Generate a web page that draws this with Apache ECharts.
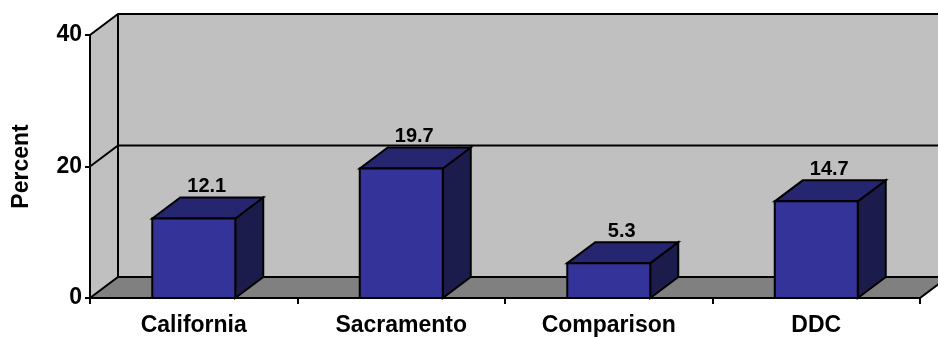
<!DOCTYPE html>
<html>
<head>
<meta charset="utf-8">
<script src="https://cdn.jsdelivr.net/npm/echarts@6/dist/echarts.min.js"></script>
<style>
  html, body { margin: 0; padding: 0; background: #ffffff; }
  #chart { width: 938px; height: 337px; }
</style>
</head>
<body>
<div id="chart"></div>
<script>
// Chart data
const categories = ['California', 'Sacramento', 'Comparison', 'DDC'];
const percentValues = [12.1, 19.7, 5.3, 14.7];
const yTicks = [0, 20, 40];

// Pseudo-3D depth offset of the back plane (pixels)
const DX = 28;
const DY = -21;
const FONT = 'Liberation Sans, Arial, sans-serif';

const chart = echarts.init(document.getElementById('chart'), null, { renderer: 'canvas' });

// Side wall, floor and back wall with its gridlines
function renderWalls(params, api) {
  const cs = params.coordSys;
  const x0 = cs.x, x1 = cs.x + cs.width;
  const yTop = cs.y, yBot = cs.y + cs.height;
  const children = [];
  // back wall
  children.push({
    type: 'rect',
    shape: { x: x0 + DX, y: yTop + DY, width: x1 - x0, height: yBot - yTop },
    style: { fill: '#c0c0c0', stroke: null }
  });
  // left side wall
  children.push({
    type: 'polygon',
    shape: { points: [[x0, yBot], [x0, yTop], [x0 + DX, yTop + DY], [x0 + DX, yBot + DY]] },
    style: { fill: '#c0c0c0', stroke: null }
  });
  // floor
  children.push({
    type: 'polygon',
    shape: { points: [[x0, yBot], [x1, yBot], [x1 + DX, yBot + DY], [x0 + DX, yBot + DY]] },
    style: { fill: '#808080', stroke: '#000', lineWidth: 2, lineJoin: 'miter' }
  });
  // back-left corner edge
  children.push({
    type: 'line',
    shape: { x1: x0 + DX, y1: yTop + DY, x2: x0 + DX, y2: yBot + DY },
    style: { stroke: '#000', lineWidth: 2 }
  });
  // gridlines across side and back walls
  yTicks.forEach(function (v) {
    if (v === 0) return;
    const fy = api.coord([0, v])[1];
    children.push({
      type: 'polyline',
      shape: { points: [[x0, fy], [x0 + DX, fy + DY], [x1 + DX, fy + DY]] },
      style: { stroke: '#000', lineWidth: 2, fill: null }
    });
  });
  return { type: 'group', children: children };
}

// 3D box for each bar plus its value label
function renderBar(params, api) {
  const idx = api.value(0);
  const val = api.value(1);
  const base = api.coord([idx, 0]);
  const top = api.coord([idx, val]);
  const bw = api.size([1, 0])[0] * 0.4;
  const xa = base[0] - bw / 2, xb = base[0] + bw / 2;
  const yb = base[1], yt = top[1];
  const edge = { stroke: '#000', lineWidth: 2, lineJoin: 'miter' };
  return {
    type: 'group',
    children: [
      {
        type: 'polygon',
        shape: { points: [[xb, yt], [xb + DX, yt + DY], [xb + DX, yb + DY], [xb, yb]] },
        style: Object.assign({ fill: '#1c1c4c' }, edge)
      },
      {
        type: 'polygon',
        shape: { points: [[xa, yt], [xa + DX, yt + DY], [xb + DX, yt + DY], [xb, yt]] },
        style: Object.assign({ fill: '#262670' }, edge)
      },
      {
        type: 'rect',
        shape: { x: xa, y: yt, width: bw, height: yb - yt },
        style: Object.assign({ fill: '#333399' }, edge)
      },
      {
        type: 'text',
        style: {
          x: base[0] + 13,
          y: yt + DY - 1,
          text: val.toFixed(1),
          fill: '#000',
          font: 'bold 20px ' + FONT,
          textAlign: 'center',
          textVerticalAlign: 'bottom'
        }
      }
    ]
  };
}

const option = {
  backgroundColor: '#ffffff',
  animation: false,
  grid: { left: 90, right: 18, top: 35, bottom: 37 },
  xAxis: {
    type: 'category',
    data: categories,
    boundaryGap: true,
    axisLine: { show: true, lineStyle: { color: '#000', width: 2 } },
    axisTick: { show: true, length: 6, lineStyle: { color: '#000', width: 2 } },
    axisLabel: { color: '#000', fontWeight: 'bold', fontSize: 23, fontFamily: FONT, margin: 16 },
    splitLine: { show: false },
    z: 10
  },
  yAxis: {
    type: 'value',
    min: 0,
    max: 40,
    interval: 20,
    name: 'Percent',
    nameLocation: 'middle',
    nameRotate: 90,
    nameGap: 57,
    nameTextStyle: { color: '#000', fontWeight: 'bold', fontSize: 23, fontFamily: FONT },
    axisLine: { show: true, lineStyle: { color: '#000', width: 2 } },
    axisTick: { show: true, length: 5, lineStyle: { color: '#000', width: 2 } },
    axisLabel: { color: '#000', fontWeight: 'bold', fontSize: 23, fontFamily: FONT, margin: 8 },
    splitLine: { show: false },
    z: 10
  },
  series: [
    {
      type: 'custom',
      renderItem: renderWalls,
      data: [[0, 0]],
      z: 1,
      silent: true
    },
    {
      type: 'custom',
      renderItem: renderBar,
      data: categories.map(function (c, i) { return [i, percentValues[i]]; }),
      encode: { x: 0, y: 1 },
      z: 5,
      silent: true
    }
  ]
};

chart.setOption(option);
</script>
</body>
</html>
